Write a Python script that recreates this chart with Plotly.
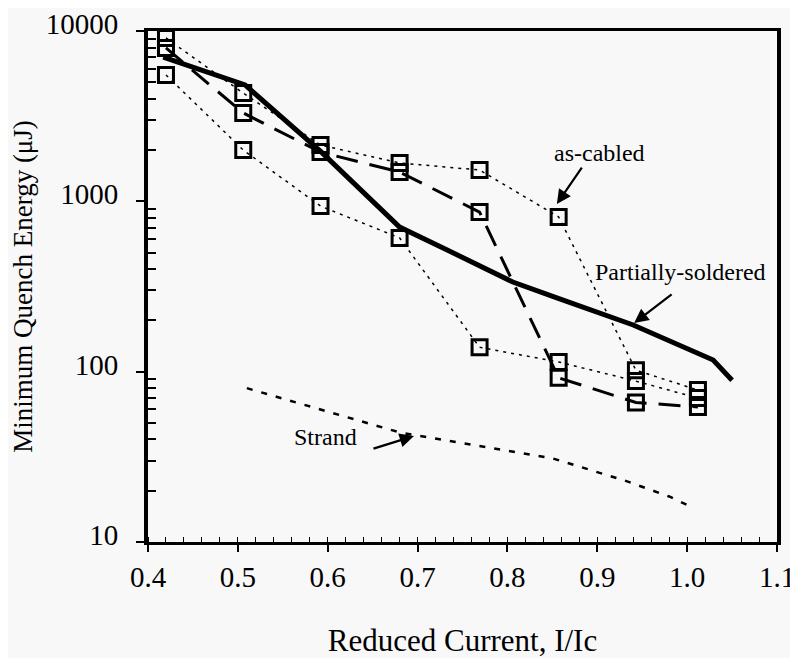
import plotly.graph_objects as go

# ---- data ----
x_meas = [0.42, 0.506, 0.592, 0.68, 0.769, 0.857, 0.943, 1.012]
cabled_a = [9100, 4320, 2140, 1680, 1527, 810, 102, 78]
cabled_b = [5520, 2000, 938, 610, 139, 114, 88, 70]
cabled_c = [7950, 3300, 1945, 1486, 865, 92, 66, 62]

x_solder = [0.417, 0.508, 0.593, 0.68, 0.733, 0.806, 0.855, 0.94, 1.029, 1.05]
y_solder = [7030, 4820, 1945, 706, 518, 336, 271, 188, 117, 89]

x_strand = [0.51, 0.60, 0.68, 0.75, 0.85, 0.93, 0.98, 1.00]
y_strand = [80, 58, 44, 38, 31, 23, 18.5, 16.5]

x_ticks = [0.4, 0.5, 0.6, 0.7, 0.8, 0.9, 1.0, 1.1]
x_ticktext = ["0.4", "0.5", "0.6", "0.7", "0.8", "0.9", "1.0", "1.1"]
y_ticks = [10, 100, 1000, 10000]
y_ticktext = ["10", "100", "1000", "10000"]
y_minor = [m * 10 ** d for d in (1, 2, 3) for m in range(2, 10)]

FONT = "Liberation Serif, Times New Roman, serif"
marker = dict(symbol="square-open", size=15, color="black", line=dict(width=3, color="black"))

fig = go.Figure()
fig.add_trace(go.Scatter(x=x_solder, y=y_solder, mode="lines",
                         line=dict(color="black", width=5), showlegend=False))
fig.add_trace(go.Scatter(x=x_strand, y=y_strand, mode="lines",
                         line=dict(color="black", width=2.5, dash="6px,9px"), showlegend=False))
fig.add_trace(go.Scatter(x=x_meas, y=cabled_c, mode="lines+markers",
                         line=dict(color="black", width=3, dash="22px,12px"),
                         marker=marker, showlegend=False))
fig.add_trace(go.Scatter(x=x_meas, y=cabled_a, mode="lines+markers",
                         line=dict(color="black", width=1.5, dash="3px,5px"),
                         marker=marker, showlegend=False))
fig.add_trace(go.Scatter(x=x_meas, y=cabled_b, mode="lines+markers",
                         line=dict(color="black", width=1.5, dash="3px,5px"),
                         marker=marker, showlegend=False))

# labels
texts = [
    ("as-cabled", 0.902, 3.284),
    ("Partially-soldered", 0.993, 2.585),
    ("Strand", 0.598, 1.616),
]
for t, xx, yy in texts:
    fig.add_annotation(x=xx, y=yy, text=t, showarrow=False,
                       font=dict(family=FONT, size=24, color="black"))

arrows = [
    (0.855, 2.984, 26, -38),
    (0.941, 2.285, 39, -30),
    (0.696, 1.622, -42, 13),
]
for xx, yy, ax, ay in arrows:
    fig.add_annotation(x=xx, y=yy, ax=ax, ay=ay, text="", showarrow=True,
                       arrowhead=2, arrowsize=1.3, arrowwidth=2.2, arrowcolor="black")

fig.update_layout(
    width=790, height=650,
    margin=dict(l=140, r=21, t=23, b=116),
    paper_bgcolor="#f8f8f8", plot_bgcolor="#f8f8f8",
    font=dict(family=FONT, color="black"),
)
fig.update_xaxes(
    range=[0.4, 1.1], tickvals=x_ticks, ticktext=x_ticktext,
    showgrid=False, zeroline=False, automargin=False,
    showline=True, linecolor="black", linewidth=3, mirror=True,
    ticks="outside", ticklen=7, tickwidth=1.5, tickcolor="black",
    minor=dict(dtick=0.02, ticks="inside", ticklen=5, tickwidth=1, tickcolor="black", showgrid=False),
    tickfont=dict(family=FONT, size=29), ticklabelstandoff=0,
    title=dict(text="Reduced Current, I/Ic", font=dict(family=FONT, size=31), standoff=38),
)
fig.update_yaxes(
    type="log", range=[1, 4], tickvals=y_ticks, ticktext=y_ticktext,
    showgrid=False, zeroline=False, automargin=False,
    showline=True, linecolor="black", linewidth=4, mirror=True,
    ticks="outside", ticklen=8, tickwidth=1.5, tickcolor="black",
    minor=dict(tickvals=y_minor, ticks="inside", ticklen=8, tickwidth=1.5, tickcolor="black", showgrid=False),
    tickfont=dict(family=FONT, size=29), ticklabelstandoff=12, ticklabelshift=-7,
    title=dict(text="Minimum Quench Energy (μJ)", font=dict(family=FONT, size=27), standoff=8),
)

fig.write_html("out.html")
